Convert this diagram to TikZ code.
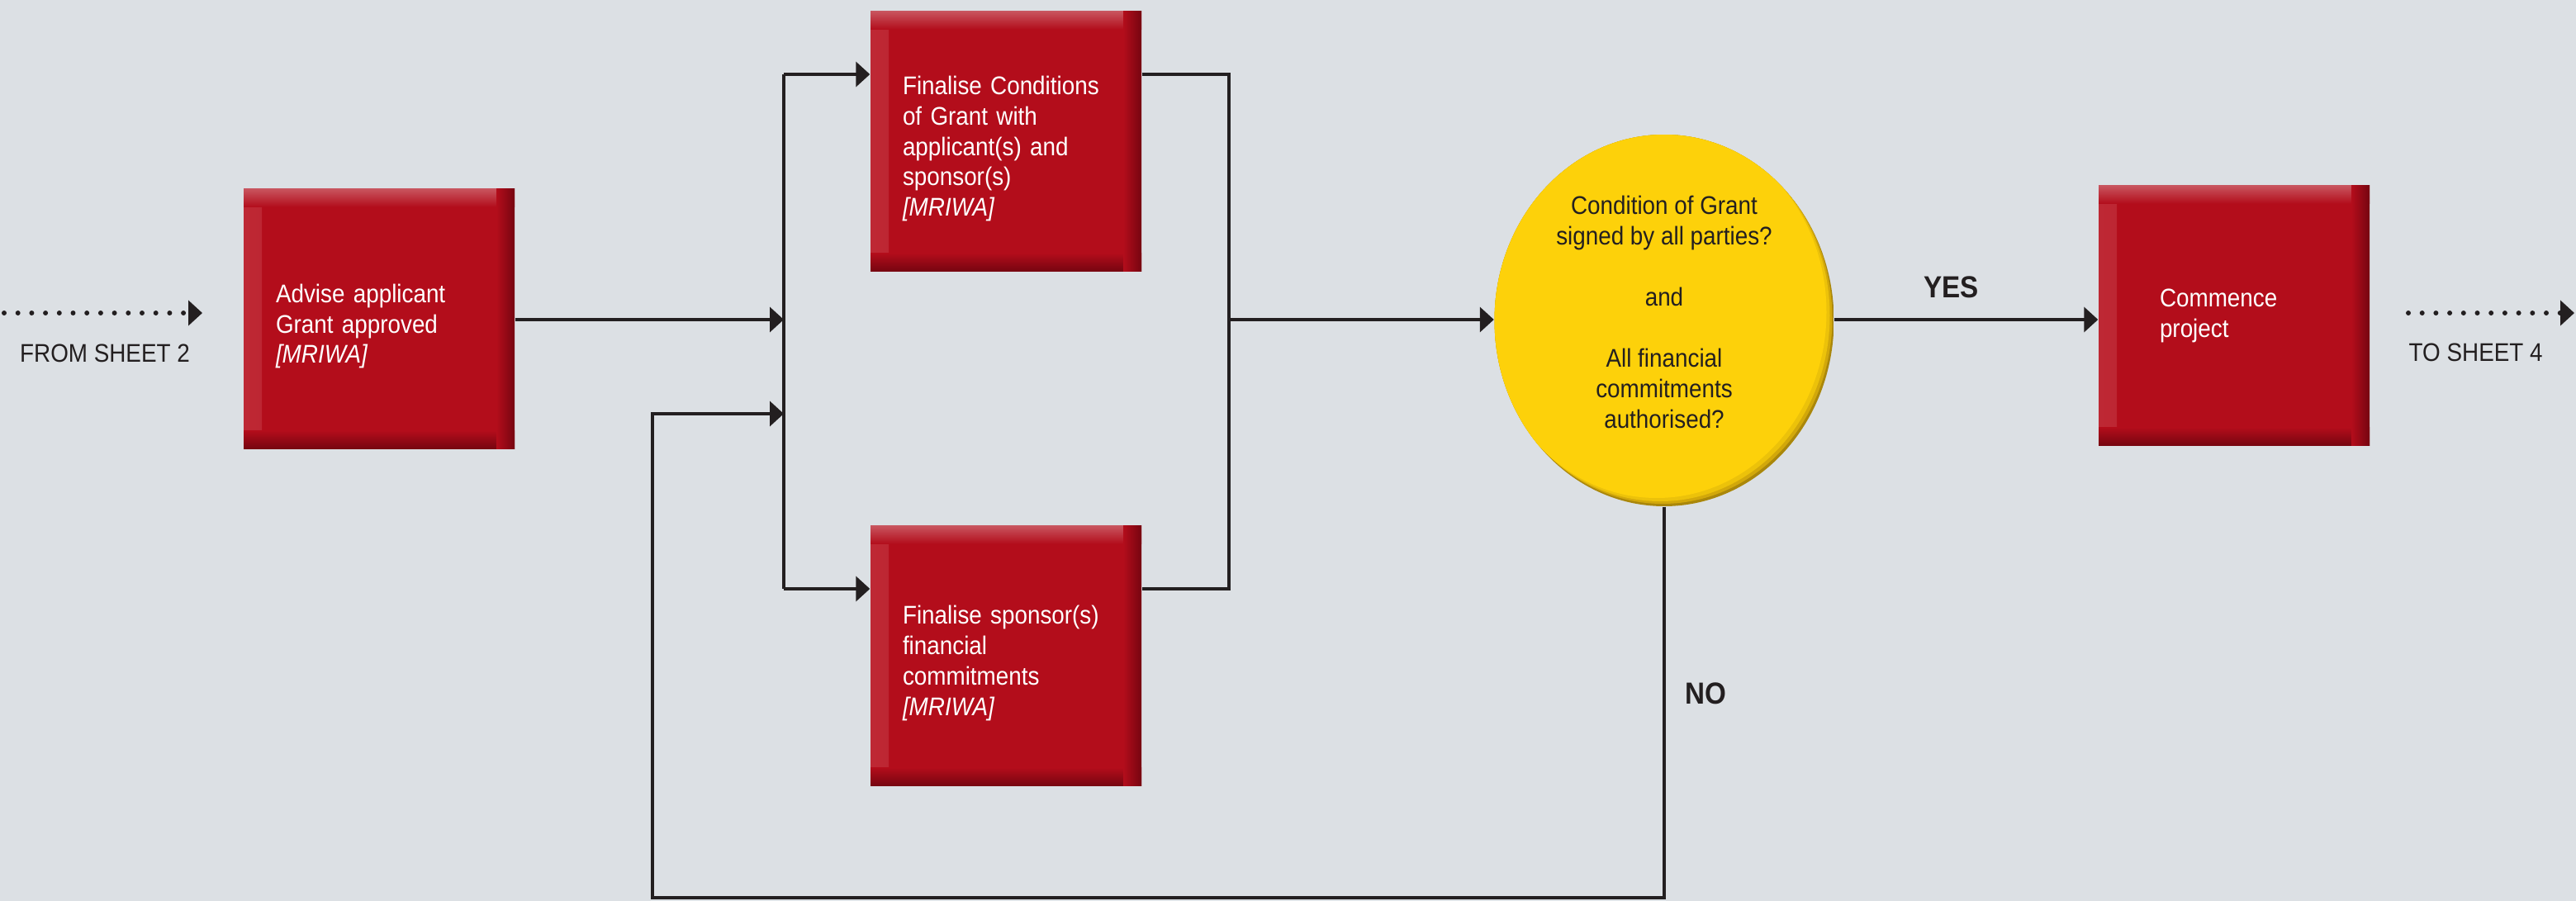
\documentclass[tikz,border=0pt]{standalone}
\usepackage{fontspec}
\setmainfont{Liberation Sans}[FakeStretch=0.9]
\usetikzlibrary{arrows.meta,shapes.geometric}

\definecolor{sheetbg}{RGB}{220,224,228}
\definecolor{linedark}{RGB}{35,31,32}
\definecolor{boxred}{RGB}{179,13,27}
\definecolor{boxtop}{RGB}{200,85,95}
\definecolor{boxleft}{RGB}{190,40,52}
\definecolor{boxbot}{RGB}{118,5,16}
\definecolor{qyellow}{RGB}{253,209,10}
\definecolor{qmid}{RGB}{236,194,10}
\definecolor{qdeep}{RGB}{210,168,10}
\definecolor{qdark}{RGB}{170,135,10}

\newcommand{\topgap}{\rule{0pt}{11.5pt}}
\newcommand{\botgap}{\rule[-5.8pt]{0pt}{0pt}}

\tikzset{
  >={Triangle[length=1.7mm,width=3mm]},
  flow/.style={draw=linedark, line width=1.1pt},
  dotflow/.style={draw=linedark, line width=1.7pt, line cap=round, dash pattern=on 0pt off 1.67mm},
  redbox/.style={rectangle, minimum width=3.28cm, minimum height=3.15cm, inner sep=0pt,
    fill=boxred, text=white, align=left, text width=2.5cm,
    font=\fontsize{8.8}{10.5}\selectfont,
    path picture={
      \shade[left color=boxleft, right color=boxred] (path picture bounding box.north west) rectangle ([xshift=0.22cm]path picture bounding box.south west);
      \shade[top color=boxtop, bottom color=boxred] (path picture bounding box.north west) rectangle ([yshift=-0.22cm]path picture bounding box.north east);
      \shade[top color=boxred, bottom color=boxbot] ([yshift=0.22cm]path picture bounding box.south west) rectangle (path picture bounding box.south east);
      \shade[left color=boxred, right color=boxbot] ([xshift=-0.22cm]path picture bounding box.north east) rectangle (path picture bounding box.south east);
    }},
  decision/.style={ellipse, minimum width=4.11cm, minimum height=4.5cm, inner sep=0pt,
    align=center, text=linedark, font=\fontsize{8.8}{10.5}\selectfont,
    path picture={
      \fill[qdark] (path picture bounding box.south west) rectangle (path picture bounding box.north east);
      \fill[qdeep] ([shift={(-0.02,0.03)}]path picture bounding box.center) ellipse (2.055 and 2.25);
      \fill[qmid] ([shift={(-0.05,0.06)}]path picture bounding box.center) ellipse (2.055 and 2.25);
      \fill[qyellow] ([shift={(-0.09,0.1)}]path picture bounding box.center) ellipse (2.055 and 2.25);
    }},
  lbl/.style={text=linedark, font=\fontsize{8.8}{10.5}\selectfont},
  yesno/.style={text=linedark, font=\bfseries\fontsize{10.5}{12}\selectfont},
}

\begin{document}
\begin{tikzpicture}
  \fill[sheetbg] (0,0) rectangle (31.19,-10.91);
  \useasboundingbox (0,0) rectangle (31.19,-10.91);

  \node[redbox] (advise) at (4.59,-3.86) {\topgap Advise applicant\\Grant approved\\\textit{[MRIWA]}};
  \node[redbox] (condgrant) at (12.18,-1.71) {\topgap Finalise Conditions\\of Grant with\\applicant(s) and\\sponsor(s)\\\textit{[MRIWA]}};
  \node[redbox] (finsponsor) at (12.18,-7.94) {\topgap Finalise sponsor(s)\\financial\\commitments\\\textit{[MRIWA]}};
  \node[decision] (signed) at (20.15,-3.88) {Condition of Grant\\signed by all parties?\\[10.5pt]and\\[10.5pt]All financial\\commitments\\authorised?\botgap};
  \node[redbox, text width=1.8cm] (commence) at (27.05,-3.82) {Commence\\project};

  \coordinate (fromstart) at (0.05,-3.79);
  \coordinate (fromend) at (2.45,-3.79);
  \coordinate (tostart) at (29.16,-3.79);
  \coordinate (toend) at (31.17,-3.79);
  \coordinate (jmid) at (9.49,-3.87);
  \coordinate (jtop) at (9.49,-0.90);
  \coordinate (jbot) at (9.49,-7.13);
  \coordinate (rtop) at (14.88,-0.90);
  \coordinate (rbot) at (14.88,-7.13);
  \coordinate (nobot) at (7.90,-10.87);
  \coordinate (noret) at (7.90,-5.01);

  \draw[dotflow,->] (fromstart) -- (fromend);
  \node[lbl] (fromlbl) at (1.27,-4.28) {FROM SHEET 2};
  \draw[dotflow,->] (tostart) -- (toend);
  \node[lbl, anchor=west, inner sep=0pt] (tolbl) at (29.16,-4.27) {TO SHEET 4};

  \draw[flow,->] (advise.east |- jmid) -- (jmid);
  \draw[flow] (jtop) -- (jbot);
  \draw[flow,->] (jtop) -- (jtop -| condgrant.west);
  \draw[flow,->] (jbot) -- (jbot -| finsponsor.west);
  \draw[flow] (rtop -| condgrant.east) -- (rtop) -- (rbot) -- (rbot -| finsponsor.east);
  \draw[flow,->] (rtop |- jmid) -- (signed.west |- jmid);
  \draw[flow,->] (signed.east |- jmid) -- (commence.west |- jmid)
    node[yesno, midway, above=0.12cm, xshift=-0.18cm] (yes) {YES};
  \draw[flow,->] (signed.south) -- (signed.south |- nobot) -- (nobot) -- (noret) -- (noret -| jtop);
  \node[yesno] (no) at (20.65,-8.40) {NO};
\end{tikzpicture}
\end{document}
